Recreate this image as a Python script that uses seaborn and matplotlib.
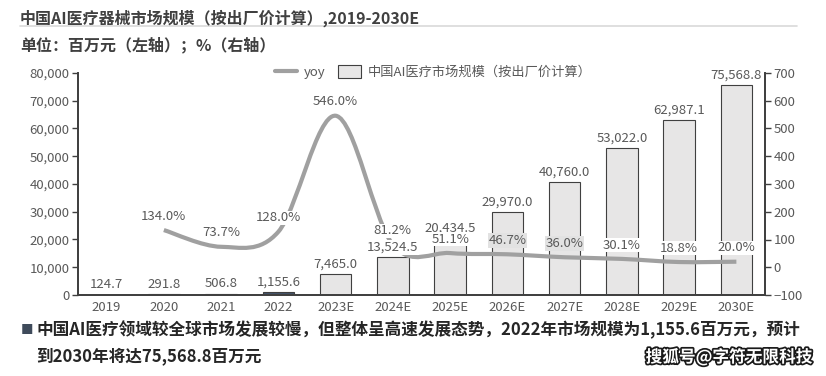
import numpy as np
import pandas as pd
import seaborn as sns
import matplotlib.pyplot as plt
import matplotlib.patheffects as pe
from matplotlib.path import Path
from matplotlib.patches import PathPatch, Patch
from matplotlib.lines import Line2D
from matplotlib.ticker import FuncFormatter, MultipleLocator

# Data
years = ['2019', '2020', '2021', '2022', '2023E', '2024E', '2025E',
         '2026E', '2027E', '2028E', '2029E', '2030E']
market_size = [124.7, 291.8, 506.8, 1155.6, 7465.0, 13524.5, 20434.5,
               29970.0, 40760.0, 53022.0, 62987.1, 75568.8]
yoy_years = years[1:]
yoy = [134.0, 73.7, 128.0, 546.0, 81.2, 51.1, 46.7, 36.0, 30.1, 18.8, 20.0]

TXT = '#595959'
SPINE = '#404040'
BAR = '#E7E6E6'
LINE = '#A0A0A0'

sns.set_theme(style='white')
plt.rcParams['font.family'] = ['Noto Sans CJK SC', 'DejaVu Sans']

fig = plt.figure(figsize=(8.26, 3.76), dpi=100)
ax = fig.add_axes([78 / 826, 1 - 295 / 376, (765 - 78) / 826, 222 / 376])

# Bars
df = pd.DataFrame({'year': years, 'size': market_size})
bar_colors = ['#44546A'] * 4 + [BAR] * 8
sns.barplot(data=df, x='year', y='size', hue='year', palette=bar_colors,
            legend=False, width=0.55, saturation=1, edgecolor=SPINE,
            linewidth=0.8, ax=ax)
ax.set_xlim(-0.5, 11.5)
ax.set_ylim(0, 80000)
ax.set_xlabel('')
ax.set_ylabel('')
ax.yaxis.set_major_locator(MultipleLocator(10000))
ax.yaxis.set_major_formatter(FuncFormatter(lambda v, p: f'{v:,.0f}'))
ax.tick_params(axis='y', direction='out', length=4, width=1, color=SPINE,
               labelcolor=TXT, labelsize=9.5, pad=2, left=True)
ax.tick_params(axis='x', length=0, labelcolor=TXT, labelsize=9.5, pad=4)

# Right axis for yoy
ax2 = ax.twinx()
ax2.set_ylim(-100, 700)
ax2.yaxis.set_major_locator(MultipleLocator(100))
ax2.tick_params(axis='y', direction='out', length=4, width=1, color=SPINE,
                labelcolor=TXT, labelsize=9.5, pad=2, right=True)
ax2.grid(False)
ax.grid(False)

for a in (ax, ax2):
    a.spines['top'].set_visible(False)
    for s in ('left', 'right', 'bottom'):
        a.spines[s].set_color(SPINE)
        a.spines[s].set_linewidth(1.3)

# Smoothed yoy line (Bezier through the data points, like Excel's smoothing)
xs = [years.index(y) for y in yoy_years]
ys = yoy
n = len(xs)
verts = [(xs[0], ys[0])]
codes = [Path.MOVETO]
for i in range(n - 1):
    x0, y0 = (xs[i - 1], ys[i - 1]) if i > 0 else (xs[i], ys[i])
    x3, y3 = (xs[i + 2], ys[i + 2]) if i + 2 < n else (xs[i + 1], ys[i + 1])
    c1 = (xs[i] + (xs[i + 1] - x0) / 6, ys[i] + (ys[i + 1] - y0) / 6)
    c2 = (xs[i + 1] - (x3 - xs[i]) / 6, ys[i + 1] - (y3 - ys[i]) / 6)
    verts += [c1, c2, (xs[i + 1], ys[i + 1])]
    codes += [Path.CURVE4] * 3
ax2.add_patch(PathPatch(Path(verts, codes), fc='none', ec=LINE, lw=3,
                        capstyle='butt', zorder=3))

# Data labels
for i, v in enumerate(market_size):
    ax2.annotate(f'{v:,.1f}', xy=(i, v), xycoords=ax.transData,
                 xytext=(0, 2.5), textcoords='offset points', ha='center',
                 va='bottom', fontsize=9.5, color=TXT, zorder=6,
                 bbox=dict(boxstyle='square,pad=0.05', fc='white', ec='none'))

label_bg = ['white'] * 6 + ['#E2E2E2', '#E2E2E2'] + ['white'] * 3
for x, v, bg in zip(xs, yoy, label_bg):
    ax2.annotate(f'{v:.1f}%', xy=(x, v), xytext=(0, 10),
                 textcoords='offset points', ha='center', va='center',
                 fontsize=9.5, color=TXT, zorder=6,
                 bbox=dict(boxstyle='square,pad=0.05', fc=bg, ec='none'))

# Legend
handles = [Line2D([], [], color=LINE, lw=3),
           Patch(fc=BAR, ec=SPINE, lw=0.8)]
fig.legend(handles, ['yoy', '中国AI医疗市场规模（按出厂价计算）'],
           loc='center', bbox_to_anchor=(433 / 826, 1 - 72 / 376), ncol=2,
           frameon=False, fontsize=9.5, labelcolor=TXT, handlelength=1.7,
           handleheight=1.2, handletextpad=0.5, columnspacing=1.0)

# Titles and notes
fig.text(20 / 826, 1 - 18 / 376, '中国AI医疗器械市场规模（按出厂价计算）,2019-2030E',
         fontsize=11.5, fontweight='bold', color='#404040', va='center')
fig.add_artist(Line2D([20 / 826, 797 / 826], [1 - 26 / 376, 1 - 26 / 376],
                      color='#D9D9D9', lw=1.2))
fig.text(20 / 826, 1 - 45 / 376, '单位：百万元（左轴）；%（右轴）',
         fontsize=11.5, fontweight='bold', color='#404040', va='center')

fig.text(21 / 826, 1 - 330 / 376, '■', fontsize=9, color='#3F4B5B',
         va='center')
fig.text(36 / 826, 1 - 330 / 376,
         '中国AI医疗领域较全球市场发展较慢，但整体呈高速发展态势，2022年市场规模为1,155.6百万元，预计',
         fontsize=12, fontweight='bold', color='#262626', va='center')
fig.text(36 / 826, 1 - 356 / 376, '到2030年将达75,568.8百万元',
         fontsize=12, fontweight='bold', color='#262626', va='center')
fig.text(812 / 826, 1 - 357 / 376, '搜狐号@字符无限科技', fontsize=12,
         fontweight='bold', color='white', ha='right', va='center',
         path_effects=[pe.withStroke(linewidth=2.5, foreground='#1a1a1a')])

fig.savefig('out.png', dpi=100)
